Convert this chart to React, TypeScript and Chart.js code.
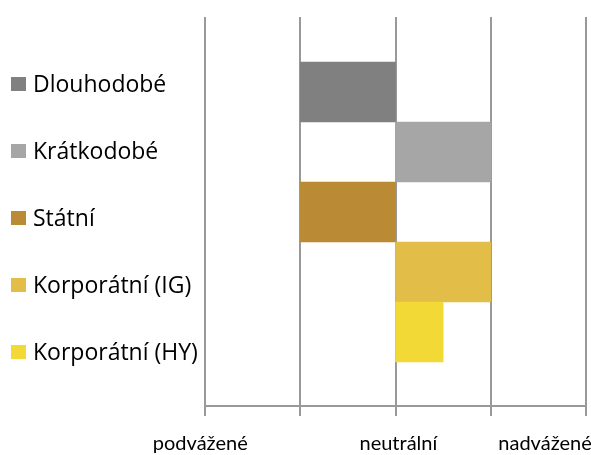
import React, { useEffect, useRef } from 'react';
import { Chart, registerables } from 'chart.js';

Chart.register(...registerables);

// ---- data ----
const categories = ['Dlouhodobé', 'Krátkodobé', 'Státní', 'Korporátní (IG)', 'Korporátní (HY)'];
const barStart = [1, 2, 1, 2, 2];
const barEnd = [2, 3, 2, 3, 2.5];
const barColors = ['#808080', '#a6a6a6', '#bb8a35', '#e2bd47', '#f3d935'];

// x axis: gridline positions and label positions
const gridValues = [0, 1, 2, 3, 4];
const labelValues = [-0.05, 2.03, 3.57];
const labelTexts = ['podvážené', 'neutrální', 'nadvážené'];

const GRID_COLOR = '#999999';

const sideLegend = {
  id: 'sideLegend',
  afterDraw(chart: any) {
    const { ctx, chartArea } = chart;
    const step = 67;
    ctx.save();
    ctx.font = '23px "Open Sans"';
    ctx.textBaseline = 'alphabetic';
    ctx.textAlign = 'left';
    categories.forEach((label, i) => {
      const cy = chartArea.top + step * (i + 1);
      ctx.fillStyle = barColors[i];
      ctx.fillRect(11, cy - 7, 15, 14);
      ctx.fillStyle = '#000000';
      ctx.fillText(label, 33, cy + 8);
    });
    ctx.restore();
  },
};

export default function App() {
  const ref = useRef<HTMLCanvasElement | null>(null);

  useEffect(() => {
    if (!ref.current) return;
    const allTicks = [...gridValues, ...labelValues].sort((a, b) => a - b);
    const labelFor = (v: number) => {
      const idx = labelValues.indexOf(v);
      return idx >= 0 ? labelTexts[idx] : '';
    };
    const isGrid = (v: number) => gridValues.includes(v);

    const chart = new Chart(ref.current, {
      type: 'bar',
      data: {
        datasets: [
          {
            label: 'Durace',
            data: categories.map((_, i) => ({ x: [barStart[i], barEnd[i]], y: i })) as any,
            backgroundColor: barColors,
            borderWidth: 0,
            barPercentage: 1,
            categoryPercentage: 1,
          },
        ],
      },
      options: {
        indexAxis: 'y',
        responsive: false,
        animation: false,
        layout: { padding: { left: 205, right: 5, top: 17, bottom: 0 } },
        plugins: {
          legend: { display: false },
          tooltip: { enabled: false },
        },
        scales: {
          y: {
            type: 'linear',
            display: false,
            offset: false,
            reverse: true,
            min: -1.25,
            max: 5.233,
            afterBuildTicks: (scale: any) => {
              scale.ticks = categories.map((_, i) => ({ value: i }));
            },
          },
          x: {
            type: 'linear',
            min: 0,
            max: 4,
            afterBuildTicks: (scale: any) => {
              scale.ticks = allTicks.map((v) => ({ value: v }));
            },
            afterFit: (scale: any) => {
              scale.paddingRight = 0;
              scale.height = 49;
            },
            grid: {
              color: (ctx: any) => (ctx.tick && isGrid(ctx.tick.value) ? GRID_COLOR : 'rgba(0,0,0,0)'),
              tickColor: (ctx: any) => (ctx.tick && isGrid(ctx.tick.value) ? GRID_COLOR : 'rgba(0,0,0,0)'),
              lineWidth: 2,
              tickLength: 10,
              drawOnChartArea: true,
            },
            border: { display: true, color: GRID_COLOR, width: 2 },
            ticks: {
              autoSkip: false,
              maxRotation: 0,
              padding: 16,
              color: '#000000',
              font: { family: 'Lato', size: 20 },
              callback: (value: any) => labelFor(Number(value)),
            },
          },
        },
      },
      plugins: [sideLegend],
    });
    return () => chart.destroy();
  }, []);

  return (
    <div style={{ position: 'absolute', left: 0, top: 0, width: 591, height: 455, background: '#ffffff' }}>
      <canvas ref={ref} width={591} height={455} style={{ display: 'block' }} />
    </div>
  );
}
